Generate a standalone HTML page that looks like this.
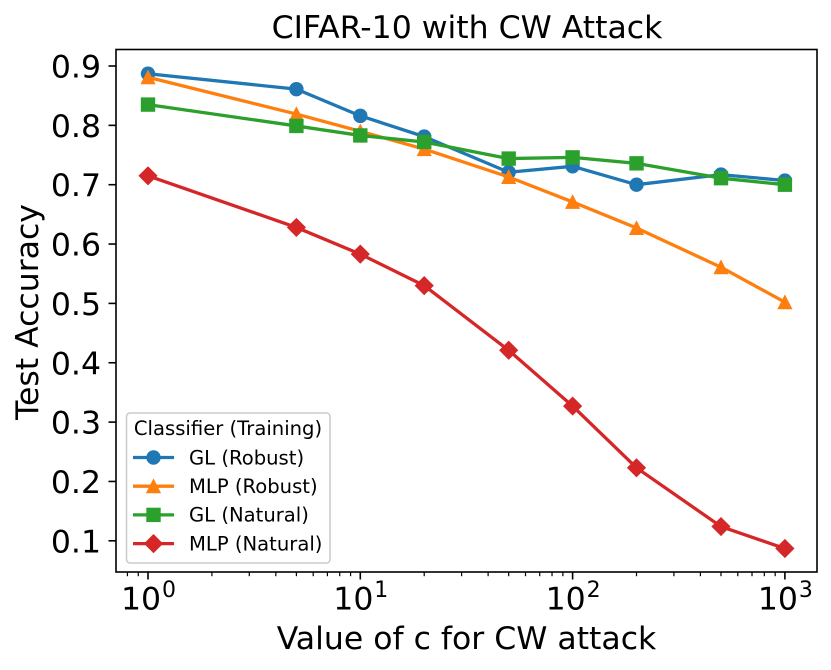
<!DOCTYPE html>
<html>
<head>
<meta charset="utf-8">
<style>
html,body{margin:0;padding:0;background:#fff;}
svg{display:block;}
text{font-family:"DejaVu Sans","Liberation Sans",sans-serif;fill:#000;}
</style>
</head>
<body>
<svg id="chart" width="831" height="670" viewBox="0 0 831 670" xmlns="http://www.w3.org/2000/svg"></svg>
<script>
const cValues = [1, 5, 10, 20, 50, 100, 200, 500, 1000];
const glRobust = [0.887, 0.861, 0.816, 0.781, 0.721, 0.731, 0.700, 0.717, 0.707];
const mlpRobust = [0.881, 0.819, 0.790, 0.760, 0.713, 0.671, 0.627, 0.561, 0.502];
const glNatural = [0.835, 0.799, 0.783, 0.772, 0.744, 0.746, 0.736, 0.711, 0.700];
const mlpNatural = [0.715, 0.628, 0.583, 0.530, 0.421, 0.327, 0.223, 0.124, 0.087];
const yTicks = [0.1, 0.2, 0.3, 0.4, 0.5, 0.6, 0.7, 0.8, 0.9];
const xExponents = [0, 1, 2, 3];
const seriesNames = ['GL (Robust)', 'MLP (Robust)', 'GL (Natural)', 'MLP (Natural)'];

const svg = document.getElementById('chart');
const NS = 'http://www.w3.org/2000/svg';
const plot = {left: 116, right: 817, top: 49.5, bottom: 572};
const xScale = v => 148 + 212.3 * Math.log10(v);
const yScale = v => 540.8 - (v - 0.1) * 593.5;

function make(tag, attrs, parent) {
  const el = document.createElementNS(NS, tag);
  for (const k in attrs) el.setAttribute(k, attrs[k]);
  (parent || svg).appendChild(el);
  return el;
}

function drawMarker(kind, x, y, color, parent) {
  if (kind === 'circle') return make('circle', {cx: x, cy: y, r: 7.2, fill: color}, parent);
  if (kind === 'triangle') return make('polygon', {points: `${x},${y - 7.8} ${x + 7.6},${y + 7} ${x - 7.6},${y + 7}`, fill: color}, parent);
  if (kind === 'square') return make('rect', {x: x - 7.2, y: y - 7.2, width: 14.4, height: 14.4, fill: color}, parent);
  return make('polygon', {points: `${x},${y - 9.6} ${x + 9.6},${y} ${x},${y + 9.6} ${x - 9.6},${y}`, fill: color}, parent);
}

const background = make('rect', {x: 0, y: 0, width: 831, height: 670, fill: '#fff'});



const title = make('text', {x: 467, y: 38, 'text-anchor': 'middle', 'font-size': 31.5});
title.textContent = 'CIFAR-10 with CW Attack';



const xTitle = make('text', {x: 466.5, y: 649, 'text-anchor': 'middle', 'font-size': 31.5});
xTitle.textContent = 'Value of c for CW attack';



const yTitle = make('text', {x: 0, y: 0, transform: 'translate(38,312) rotate(-90)', 'text-anchor': 'middle', 'font-size': 31.5});
yTitle.textContent = 'Test Accuracy';



yTicks.forEach(t => {
  const y = yScale(t);
  const tick = make('line', {x1: plot.left - 7.5, x2: plot.left, y1: y, y2: y, stroke: '#000', 'stroke-width': 1.6});
  
  
  const label = make('text', {x: plot.left - 15, y: y + 11.5, 'text-anchor': 'end', 'font-size': 31.5});
  label.textContent = t.toFixed(1);
  
  
});

xExponents.forEach(e => {
  const x = xScale(Math.pow(10, e));
  const tick = make('line', {x1: x, x2: x, y1: plot.bottom, y2: plot.bottom + 7.5, stroke: '#000', 'stroke-width': 1.6});
  
  
  const base = make('text', {x: x - 27, y: 609.5, 'font-size': 31.5});
  base.textContent = '10';
  
  
  const power = make('text', {x: x + 14, y: 597, 'font-size': 22});
  power.textContent = String(e);
  
  
});

for (let e = -1; e <= 3; e++) {
  for (let m = 2; m <= 9; m++) {
    const x = xScale(m * Math.pow(10, e));
    if (x < plot.left || x > plot.right) continue;
    const minor = make('line', {x1: x, x2: x, y1: plot.bottom, y2: plot.bottom + 4.2, stroke: '#000', 'stroke-width': 1.2});
    
    
  }
}

const allSeries = [
  {name: seriesNames[0], values: glRobust, color: '#1f77b4', marker: 'circle', key: 'gl-robust'},
  {name: seriesNames[1], values: mlpRobust, color: '#ff7f0e', marker: 'triangle', key: 'mlp-robust'},
  {name: seriesNames[2], values: glNatural, color: '#2ca02c', marker: 'square', key: 'gl-natural'},
  {name: seriesNames[3], values: mlpNatural, color: '#d62728', marker: 'diamond', key: 'mlp-natural'}
];

allSeries.forEach(s => {
  const g = make('g', {});
  
  
  const pts = s.values.map((v, i) => xScale(cValues[i]) + ',' + yScale(v)).join(' ');
  const line = make('polyline', {points: pts, fill: 'none', stroke: s.color, 'stroke-width': 3.3, 'stroke-linejoin': 'round'}, g);
  
  
  s.values.forEach((v, i) => {
    const mark = drawMarker(s.marker, xScale(cValues[i]), yScale(v), s.color, g);
    
    
  });
});

const frame = make('rect', {x: plot.left, y: plot.top, width: plot.right - plot.left, height: plot.bottom - plot.top, fill: 'none', stroke: '#000', 'stroke-width': 1.6});



const legend = make('g', {});


const legendBox = make('rect', {x: 126.5, y: 413, width: 203.5, height: 150, rx: 3.5, fill: '#fff', 'fill-opacity': 0.8, stroke: '#ccc', 'stroke-width': 1.6}, legend);


const legendTitle = make('text', {x: 228, y: 435, 'text-anchor': 'middle', 'font-size': 19.6}, legend);
legendTitle.textContent = 'Classifier (Training)';



allSeries.forEach((s, i) => {
  const y = 457.5 + i * 28.7;
  const entry = make('g', {}, legend);
  
  
  const handle = make('line', {x1: 133, x2: 174, y1: y, y2: y, stroke: s.color, 'stroke-width': 3.3}, entry);
  
  
  const mark = drawMarker(s.marker, 153.5, y, s.color, entry);
  
  
  const label = make('text', {x: 189, y: y + 6.8, 'font-size': 19.6}, entry);
  label.textContent = s.name;
  
  
});
</script>
</body>
</html>
